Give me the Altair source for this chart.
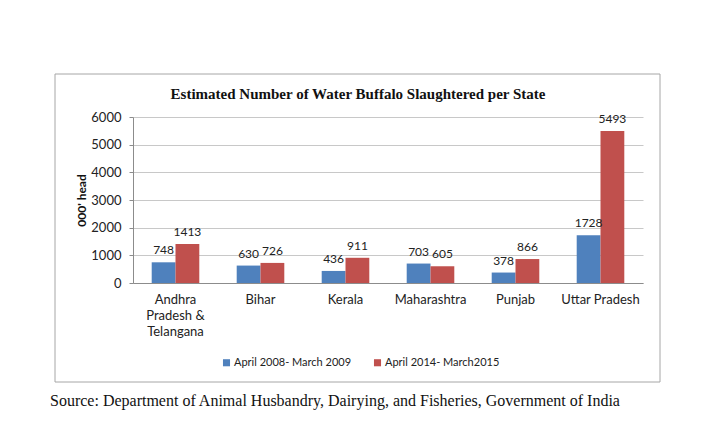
import altair as alt
import pandas as pd

states = ["Andhra|Pradesh &|Telangana", "Bihar", "Kerala", "Maharashtra", "Punjab", "Uttar Pradesh"]
periods = ["April 2008- March 2009", "April 2014- March2015"]
values_2008 = [748, 630, 436, 703, 378, 1728]
values_2014 = [1413, 726, 911, 605, 866, 5493]
colors = ["#4F81BD", "#C0504D"]
y_ticks = [0, 1000, 2000, 3000, 4000, 5000, 6000]

rows = []
for s, a, b in zip(states, values_2008, values_2014):
    rows.append({"state": s, "period": periods[0], "value": a})
    rows.append({"state": s, "period": periods[1], "value": b})
df = pd.DataFrame(rows)

FONT = "Lato"

x_enc = alt.X("state:N", sort=states,
              scale=alt.Scale(paddingInner=0.44, paddingOuter=0.22),
              axis=alt.Axis(title=None, labelAngle=0, ticks=False,
                            labelExpr="split(datum.label, '|')",
                            labelFont=FONT, labelFontSize=13, labelColor="#222",
                            labelPadding=10, labelLineHeight=16,
                            domainColor="#8c8c8c", grid=False))
y_enc = alt.Y("value:Q",
              scale=alt.Scale(domain=[0, 6000], nice=False),
              axis=alt.Axis(title="000' head", values=y_ticks, tickCount=7, format="d",
                            labelOverlap=False,
                            titleFont=FONT, titleFontSize=12, titleFontWeight="bold",
                            titleColor="#111", titlePadding=2,
                            labelFont=FONT, labelFontSize=13, labelColor="#222",
                            labelPadding=8, tickSize=4, tickColor="#8c8c8c",
                            domainColor="#8c8c8c", gridColor="#c8c8c8"))
xo = alt.XOffset("period:N", sort=periods)

base = alt.Chart(df)
bars = base.mark_bar().encode(
    x=x_enc, y=y_enc, xOffset=xo,
    color=alt.Color("period:N", sort=periods,
                    scale=alt.Scale(domain=periods, range=colors),
                    legend=alt.Legend(title=None, orient="none", legendX=88, legendY=240,
                                      direction="horizontal", symbolType="square",
                                      symbolSize=50, symbolStrokeWidth=0,
                                      labelFont=FONT, labelFontSize=11, labelColor="#222",
                                      labelOffset=2, columnPadding=20)),
)
labels = base.mark_text(baseline="bottom", dy=-5, font=FONT, fontSize=12, color="#222").encode(
    x=x_enc, y=y_enc, xOffset=xo, text="value:Q"
)

one = pd.DataFrame({"a": [0]})
box = alt.Chart(one).mark_rect(
    fill="transparent", stroke="#a6a6a6", strokeWidth=1
).encode(x=alt.value(-78), x2=alt.value(527), y=alt.value(-43), y2=alt.value(265))

title = alt.Chart(one).mark_text(
    text="Estimated Number of Water Buffalo Slaughtered per State",
    font="Liberation Serif", fontSize=15, fontWeight="bold", align="center",
    baseline="middle", color="#111"
).encode(x=alt.value(225), y=alt.value(-23))

source = alt.Chart(one).mark_text(
    text="Source: Department of Animal Husbandry, Dairying, and Fisheries, Government of India",
    font="Liberation Serif", fontSize=16, align="left", baseline="middle", color="#111"
).encode(x=alt.value(-83), y=alt.value(284))

chart = alt.layer(box, title, bars, labels, source).properties(
    width=510, height=166,
    autosize=alt.AutoSizeParams(type="none"),
    padding={"left": 125, "top": 109, "right": 71, "bottom": 141},
    background="white",
).configure_view(stroke=None)

chart.save("out.html", embed_options={"renderer": "svg", "actions": False})
